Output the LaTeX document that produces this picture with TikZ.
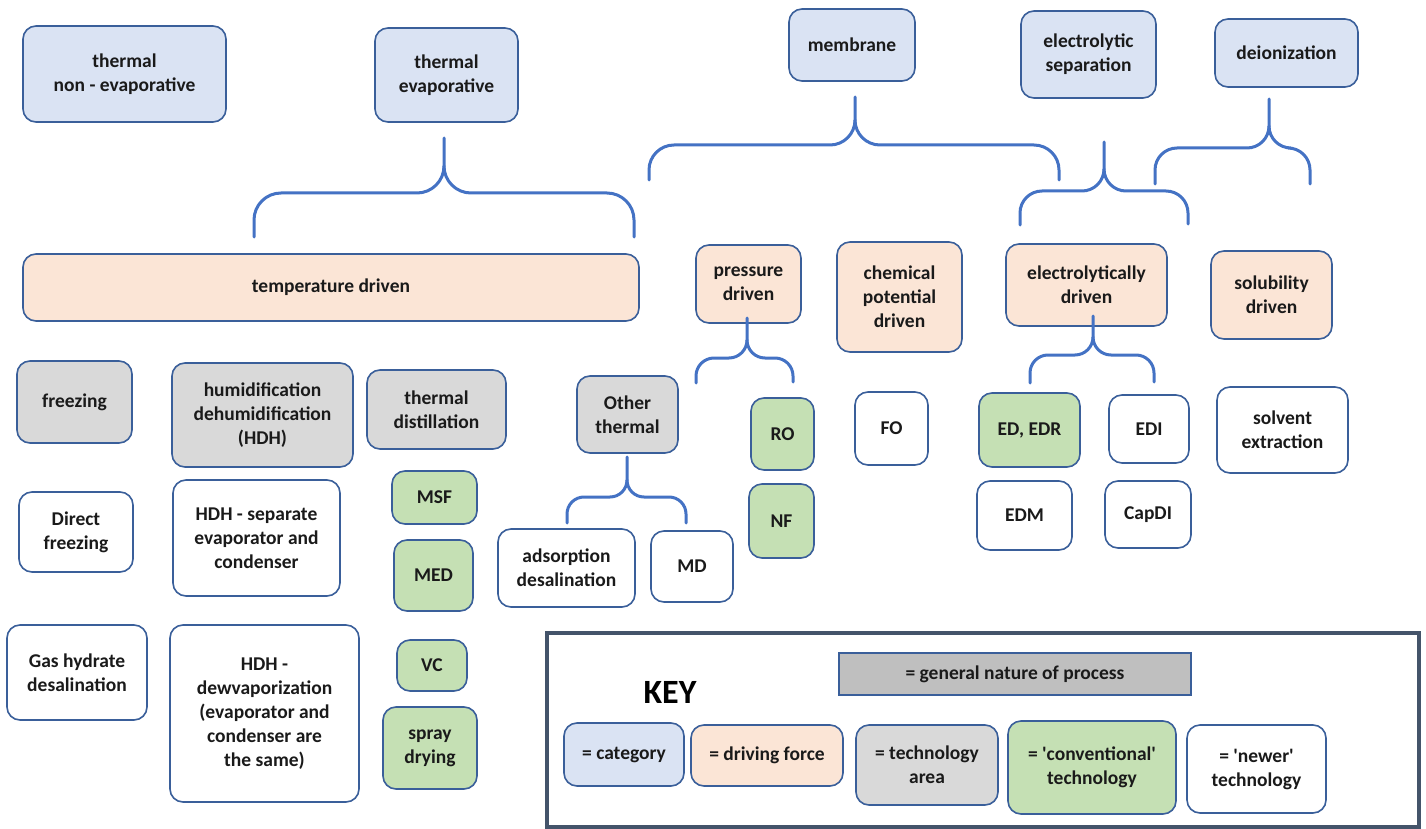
\documentclass[tikz,border=0pt]{standalone}
\usepackage{fontspec}
\setmainfont{Carlito}
\definecolor{catfill}{HTML}{DAE3F3}
\definecolor{dffill}{HTML}{FBE5D6}
\definecolor{tafill}{HTML}{D9D9D9}
\definecolor{convfill}{HTML}{C5E0B4}
\definecolor{genfill}{HTML}{BFBFBF}
\definecolor{boxline}{HTML}{3A5F9A}
\definecolor{braceblue}{HTML}{4472C4}
\definecolor{keyline}{HTML}{44546A}
\definecolor{txt}{HTML}{1A1A1A}
\tikzset{
  box/.style={draw=boxline, line width=1.6pt, rounded corners=13pt, align=center, inner sep=0pt,
    text=txt, font=\fontsize{19.5}{24}\selectfont\bfseries},
  cat/.style={box, fill=catfill},
  df/.style={box, fill=dffill},
  ta/.style={box, fill=tafill},
  conv/.style={box, fill=convfill},
  newer/.style={box, fill=white},
  bracestyle/.style={draw=braceblue, line width=3pt, line cap=round},
}
\newcommand\mybrace[8]{%
  \draw[bracestyle] (#4,#5) -- ({#4},{#3+#8}) .. controls ({#4},{#3+0.448*#8}) and ({#4+0.448*#8},{#3}) .. ({#4+#8},{#3})
    -- ({#1-#8},{#3}) .. controls ({#1-0.448*#8},{#3}) and ({#1},{#3-0.448*#8}) .. ({#1},{#3-#8}) -- (#1,#2);
  \draw[bracestyle] ({#1},{#3-#8}) .. controls ({#1},{#3-0.448*#8}) and ({#1+0.448*#8},{#3}) .. ({#1+#8},{#3})
    -- ({#6-#8},{#3}) .. controls ({#6-0.448*#8},{#3}) and ({#6},{#3+0.448*#8}) .. ({#6},{#3+#8}) -- (#6,#7);
}
\begin{document}
\begin{tikzpicture}[x=1pt,y=-1pt]
\useasboundingbox[fill=white] (0,0) rectangle (1426,829);

% categories
\node[cat, minimum width=203, minimum height=96] (tne) at (124.5,74) {thermal\\non - evaporative};
\node[cat, minimum width=143, minimum height=94] (tev) at (446.5,75) {thermal\\evaporative};
\node[cat, minimum width=126, minimum height=72] (mem) at (852,45) {membrane};
\node[cat, minimum width=135, minimum height=87] (els) at (1088.5,54.5) {electrolytic\\separation};
\node[cat, minimum width=143, minimum height=68] (dei) at (1286.5,53) {deionization};

% driving forces
\node[df, minimum width=616, minimum height=67] (temp) at (331,287.5) {temperature driven};
\node[df, minimum width=105, minimum height=78] (pd) at (748.5,284) {pressure\\driven};
\node[df, minimum width=125, minimum height=110] (cpd) at (899.5,297) {chemical\\potential\\driven};
\node[df, minimum width=161, minimum height=82] (ed) at (1086.5,285) {electrolytically\\driven};
\node[df, minimum width=121, minimum height=88] (sd) at (1271.5,295) {solubility\\driven};

% technology areas
\node[ta, minimum width=115, minimum height=82] (frz) at (74.5,402) {freezing};
\node[ta, minimum width=181, minimum height=104] (hdh) at (262.5,415) {humidification\\dehumidification\\(HDH)};
\node[ta, minimum width=139, minimum height=79] (td) at (436.5,409.5) {thermal\\distillation};
\node[ta, minimum width=101, minimum height=77] (oth) at (627.5,414.5) {Other\\thermal};

% conventional
\node[conv, minimum width=63, minimum height=72] (ro) at (782.5,434) {RO};
\node[conv, minimum width=65, minimum height=74] (nf) at (781.5,521) {NF};
\node[conv, minimum width=101, minimum height=74] (edr) at (1029.5,430) {ED, EDR};
\node[conv, minimum width=85, minimum height=53] (msf) at (434.5,497.5) {MSF};
\node[conv, minimum width=79, minimum height=71] (med) at (433.5,575.5) {MED};
\node[conv, minimum width=70, minimum height=51] (vc) at (432,665.5) {VC};
\node[conv, minimum width=94, minimum height=82] (spr) at (430,748) {spray\\drying};

% newer
\node[newer, minimum width=73, minimum height=73] (fo) at (891.5,428.5) {FO};
\node[newer, minimum width=80, minimum height=68] (edi) at (1149,429) {EDI};
\node[newer, minimum width=131, minimum height=86] (sol) at (1282.5,430) {solvent\\extraction};
\node[newer, minimum width=95, minimum height=69] (edm) at (1024.5,515.5) {EDM};
\node[newer, minimum width=86, minimum height=67] (capdi) at (1148,514.5) {CapDI};
\node[newer, minimum width=114, minimum height=80] (dfr) at (76,532) {Direct\\freezing};
\node[newer, minimum width=167, minimum height=116] (hsep) at (256.5,538) {HDH - separate\\evaporator and\\condenser};
\node[newer, minimum width=137, minimum height=78] (ads) at (566.5,568) {adsorption\\desalination};
\node[newer, minimum width=82, minimum height=71] (md) at (692,566.5) {MD};
\node[newer, minimum width=140, minimum height=95] (gas) at (77,672.5) {Gas hydrate\\desalination};
\node[newer, minimum width=189, minimum height=177] (hdew) at (264.5,713.5) {HDH -\\dewvaporization\\(evaporator and\\condenser are\\the same)};

% braces
\mybrace{444}{138}{193}{254}{237}{634}{237}{27}
\mybrace{855}{97}{145}{649}{180}{1059}{180}{25}
\mybrace{1104}{142}{191}{1020}{225}{1188}{224}{22}
\mybrace{1269}{99}{148}{1155}{184}{1310}{184}{22}
\mybrace{747}{318}{358}{696}{383}{793}{382}{18}
\mybrace{1093}{316}{355}{1030}{383}{1154}{382}{18}
\mybrace{627}{457}{497}{567}{523}{686}{523}{17}

% key
\node[draw=keyline, line width=4pt, minimum width=872, minimum height=194, inner sep=0pt] (keybox) at (983,730) {};
\node[font=\fontsize{34}{40}\selectfont\bfseries, inner sep=0pt] (keytitle) at (670,692) {KEY};
\node[box, rounded corners=0pt, fill=genfill, minimum width=352, minimum height=42] (gen) at (1015,674) {= general nature of process};
\node[cat, minimum width=120, minimum height=63] (kcat) at (624,754.5) {= category};
\node[df, minimum width=152, minimum height=61] (kdf) at (767,755.5) {= driving force};
\node[ta, minimum width=142, minimum height=80] (kta) at (927,765) {= technology\\area};
\node[conv, minimum width=168, minimum height=93] (kconv) at (1092,767.5) {= \textquotesingle conventional\textquotesingle\\technology};
\node[newer, minimum width=139, minimum height=88] (knew) at (1256.5,769) {= \textquotesingle newer\textquotesingle\\technology};
\end{tikzpicture}
\end{document}
